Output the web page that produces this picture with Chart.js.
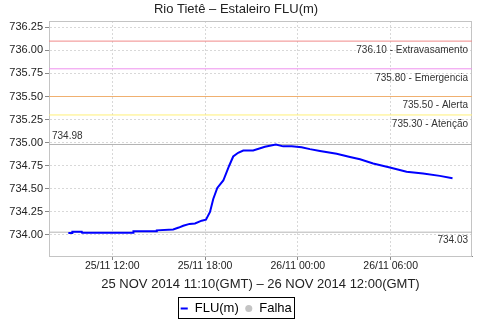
<!DOCTYPE html>
<html>
<head>
<meta charset="utf-8">
<script src="https://cdn.jsdelivr.net/npm/chart.js@4"></script>
<style>
  html, body { margin: 0; padding: 0; background: #fff; }
  #wrap { width: 480px; height: 320px; }
</style>
</head>
<body>
<div id="wrap"><canvas id="chart" width="480" height="320"></canvas></div>
<script>
// hours counted from 25/11 00:00 (local), FLU level in metres
const hours = [9.16, 9.40, 9.42, 10.03, 10.05, 13.35, 13.37, 14.86, 14.88, 15.94,
    16.30, 16.59, 17.00, 17.35, 17.78, 18.06, 18.32, 18.53, 18.79, 19.18,
    19.56, 19.82, 20.14, 20.47, 21.11, 21.87, 22.58, 23.05, 23.60, 24.24,
    24.78, 25.43, 26.51, 27.37, 28.02, 28.87, 29.95, 31.03, 32.10, 33.18, 34.00];
const flu = [734.02, 734.02, 734.035, 734.035, 734.025, 734.025, 734.04, 734.04, 734.05, 734.06,
    734.08, 734.10, 734.12, 734.125, 734.155, 734.165, 734.25, 734.39, 734.51, 734.59,
    734.75, 734.85, 734.89, 734.915, 734.915, 734.955, 734.98, 734.96, 734.96, 734.95,
    734.93, 734.91, 734.88, 734.845, 734.82, 734.775, 734.73, 734.685, 734.665, 734.64, 734.615];

const levelValues = [736.10, 735.80, 735.50, 735.30];
const levelNames = ['Extravasamento', 'Emergencia', 'Alerta', 'Atenção'];
const levelColors = ['#f08a8a', '#ee90ee', '#f0b070', '#fff078'];

const fluMax = 734.98;
const fluMin = 734.03;
const xTicks = [12, 18, 24, 30];
const xMin = 7.91, xMax = 35.26;

const chartTitle = 'Rio Tietê – Estaleiro FLU(m)';
const axisTitle = '25 NOV 2014 11:10(GMT) – 26 NOV 2014 12:00(GMT)';

const FONT = '"Liberation Sans", Arial, sans-serif';

function fmtHour(h) {
    const day = h >= 24 ? '26/11' : '25/11';
    const hh = String(Math.round(h % 24)).padStart(2, '0');
    return day + ' ' + hh + ':00';
}

function hLine(v, color) {
    return {
        label: '',
        data: [{ x: xMin, y: v }, { x: xMax, y: v }],
        borderColor: color,
        borderWidth: 1,
        pointRadius: 0,
        tension: 0,
        order: 5,
    };
}

// labels of the reference lines, the light frame and the legend box
const refLabels = {
    id: 'refLabels',
    beforeDatasetsDraw(chart) {
        const { ctx, chartArea: a, scales: { y } } = chart;
        ctx.save();
        ctx.lineWidth = 1;
        ctx.strokeStyle = '#c4c4c4';
        ctx.strokeRect(a.left + 0.5, a.top + 0.5, a.right - a.left - 1, a.bottom - a.top);

        ctx.font = '10px ' + FONT;
        ctx.fillStyle = '#333';
        ctx.textBaseline = 'middle';
        ctx.textAlign = 'right';
        levelValues.forEach((v, i) => {
            const py = y.getPixelForValue(v);
            ctx.fillText(v.toFixed(2) + ' - ' + levelNames[i], a.right - 4, py + 9);
        });
        ctx.textAlign = 'left';
        ctx.fillText(fluMax.toFixed(2), a.left + 3, y.getPixelForValue(fluMax) - 8);
        ctx.textAlign = 'right';
        ctx.fillText(fluMin.toFixed(2), a.right - 4, y.getPixelForValue(fluMin) + 8);
        ctx.restore();
    },
    afterDraw(chart) {
        const hb = chart.legend.legendHitBoxes;
        if (!hb || !hb.length) return;
        const last = hb[hb.length - 1];
        const { ctx } = chart;
        ctx.save();
        ctx.strokeStyle = '#000';
        ctx.lineWidth = 1;
        const l = Math.round(hb[0].left) - 1.5;
        const r = Math.round(last.left + last.width) + 2.5;
        const t = Math.round(hb[0].top) - 4.5;
        const b = Math.round(hb[0].top + hb[0].height) + 3.5;
        ctx.strokeRect(l, t, r - l, b - t);
        ctx.restore();
    }
};

const points = hours.map((h, i) => ({ x: h, y: flu[i] }));

new Chart(document.getElementById('chart'), {
    type: 'line',
    data: {
        datasets: [
            {
                label: 'FLU(m)',
                data: points,
                borderColor: '#0000ff',
                backgroundColor: '#0000ff',
                borderWidth: 2,
                pointRadius: 0,
                pointStyle: 'line',
                tension: 0,
                order: 0,
            },
            {
                label: 'Falha',
                data: [],
                showLine: false,
                pointStyle: 'circle',
                backgroundColor: '#c4c4c4',
                borderColor: '#c4c4c4',
                borderWidth: 0,
            },
            ...levelValues.map((v, i) => hLine(v, levelColors[i])),
            hLine(fluMax, '#b4b4b4'),
            hLine(fluMin, '#b4b4b4'),
        ]
    },
    options: {
        responsive: false,
        animation: false,
        layout: { padding: { left: 0, right: 8, top: 0, bottom: -5 } },
        plugins: {
            title: {
                display: true,
                text: chartTitle,
                color: '#222',
                font: { family: FONT, size: 13, weight: 'normal', lineHeight: 1.2 },
                padding: { top: 2, bottom: 3.4 },
            },
            legend: {
                position: 'bottom',
                labels: {
                    usePointStyle: true,
                    boxWidth: 8,
                    boxHeight: 5,
                    padding: 6,
                    color: '#000',
                    font: { family: FONT, size: 13 },
                    filter: item => item.datasetIndex < 2,
                }
            },
            tooltip: { enabled: false },
        },
        scales: {
            x: {
                type: 'linear',
                min: xMin,
                max: xMax,
                afterFit: s => { s.height = 40; },
                afterBuildTicks: s => { s.ticks = xTicks.map(v => ({ value: v })); },
                ticks: {
                    color: '#222',
                    padding: 0,
                    maxRotation: 0,
                    font: { family: FONT, size: 10.5 },
                    callback: v => fmtHour(v),
                },
                grid: { color: '#d8d8d8', tickColor: '#888', tickLength: 4 },
                border: { color: '#888', dash: [2, 2] },
                title: {
                    display: true,
                    text: axisTitle,
                    color: '#222',
                    font: { family: FONT, size: 13 },
                    padding: { top: 0, bottom: 4 },
                }
            },
            y: {
                min: 733.772,
                max: 736.318,
                afterFit: s => { s.width = 49; },
                ticks: {
                    stepSize: 0.25,
                    includeBounds: false,
                    color: '#222',
                    padding: 2,
                    font: { family: FONT, size: 11 },
                    callback: v => v.toFixed(2),
                },
                grid: { color: '#d8d8d8', tickColor: '#888', tickLength: 4 },
                border: { color: '#888', dash: [2, 2] },
            }
        }
    },
    plugins: [refLabels]
});
</script>
</body>
</html>
